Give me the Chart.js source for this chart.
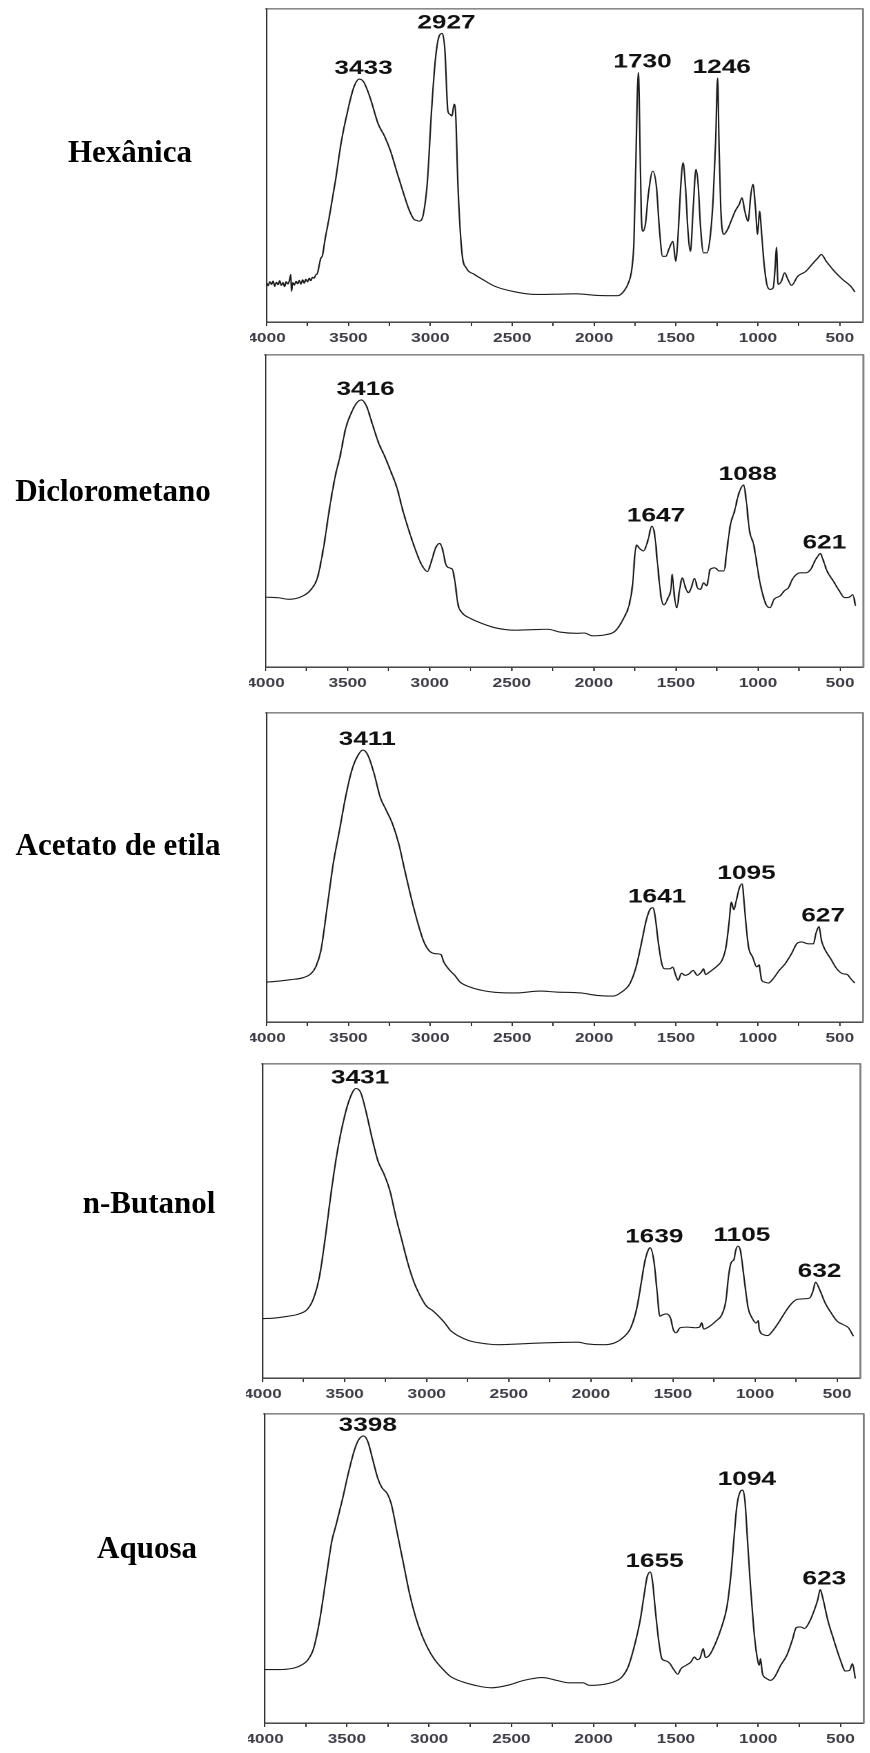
<!DOCTYPE html>
<html lang="pt">
<head>
<meta charset="utf-8">
<title>Espectros de infravermelho das frações</title>
<script src="https://cdn.jsdelivr.net/npm/chart.js@4.4.1/dist/chart.umd.min.js"></script>
<style>
  html, body { margin: 0; padding: 0; background: #fff; }
  body { width: 870px; height: 1753px; position: relative; overflow: hidden; }
  .label {
    position: absolute; width: 300px; text-align: center; white-space: nowrap;
    font: bold 31px "Liberation Serif", "Times New Roman", serif; line-height: 31px; color: #000;
  }
  .panel { position: absolute; transform-origin: 0 0; }
  .panel canvas { display: block; }
</style>
</head>
<body>
<script>
// Wavenumber axis (cm-1), drawn from high to low
const axisMax = 4000;
const axisMin = 360;
const majorStep = 500;
const minorStep = 250;

const panelNames = ['Hexânica', 'Diclorometano', 'Acetato de etila', 'n-Butanol', 'Aquosa'];

// Fração hexânica
const hexWavenumber = [4000, 3990, 3980, 3970, 3960, 3950, 3940, 3930, 3920, 3910, 3900, 3890, 3880, 3870, 3860, 3852, 3848, 3840, 3830, 3820, 3810, 3800, 3790, 3780, 3770, 3760, 3750, 3740, 3730, 3720, 3710, 3700, 3690, 3668, 3660, 3643, 3618, 3580, 3543, 3505, 3468, 3433, 3405, 3368, 3318, 3280, 3243, 3206, 3168, 3131, 3100, 3080, 3068, 3043, 3018, 2993, 2968, 2945, 2927, 2911, 2893, 2881, 2868, 2855, 2846, 2831, 2806, 2781, 2731, 2681, 2606, 2481, 2356, 2231, 2107, 1981, 1857, 1819, 1787, 1769, 1757, 1747, 1730, 1725, 1720, 1712, 1702, 1687, 1669, 1642, 1619, 1602, 1582, 1562, 1544, 1519, 1502, 1487, 1472, 1457, 1442, 1427, 1412, 1395, 1378, 1365, 1350, 1332, 1312, 1292, 1273, 1258, 1246, 1238, 1227, 1209, 1189, 1164, 1139, 1114, 1097, 1080, 1060, 1043, 1030, 1015, 1002, 990, 977, 962, 945, 927, 907, 895, 887, 877, 857, 837, 817, 795, 757, 707, 670, 633, 613, 583, 533, 483, 433, 408];
const hexSignal = [12.5, 11.6, 12.9, 12.0, 13.1, 11.4, 12.7, 11.9, 13.2, 11.7, 12.6, 11.3, 12.9, 12.1, 13.4, 15.2, 9.8, 12.6, 11.8, 13.0, 12.2, 13.3, 12.1, 13.5, 12.4, 13.7, 12.8, 14.0, 13.2, 14.3, 14.0, 15.0, 15.5, 20.5, 21.0, 26.4, 33.3, 45.0, 57.8, 67.4, 74.9, 77.6, 76.5, 71.7, 63.2, 59.4, 54.6, 48.2, 41.8, 36.0, 32.8, 32.4, 32.2, 34.4, 45.0, 67.4, 84.5, 91.5, 92.2, 86.7, 67.4, 66.4, 65.8, 69.6, 67.0, 42.9, 21.6, 17.3, 15.2, 13.6, 11.4, 9.6, 8.8, 8.9, 9.0, 8.5, 8.4, 9.8, 13.0, 17.3, 25.8, 47.2, 79.7, 72.0, 56.8, 34.4, 29.0, 31.2, 40.8, 48.2, 42.9, 30.1, 21.0, 21.0, 23.2, 25.8, 19.4, 28.0, 42.9, 50.9, 42.9, 29.0, 22.6, 36.5, 48.8, 44.0, 30.1, 22.1, 22.1, 26.9, 39.7, 57.8, 77.9, 57.8, 36.5, 28.0, 29.2, 32.2, 35.4, 37.6, 39.7, 35.4, 32.2, 40.8, 44.0, 36.5, 28.0, 35.4, 28.0, 18.4, 12.0, 10.4, 10.9, 17.3, 23.9, 12.0, 13.0, 15.7, 13.6, 11.7, 14.6, 16.2, 18.4, 20.5, 21.6, 19.4, 16.2, 13.6, 11.4, 9.6];
const hexPeaks = [3433, 2927, 1730, 1246];

// Fração diclorometano
const dicWavenumber = [4000, 3920, 3858, 3771, 3722, 3684, 3647, 3610, 3573, 3548, 3511, 3473, 3444, 3416, 3386, 3349, 3312, 3275, 3238, 3200, 3163, 3126, 3088, 3051, 3014, 2989, 2964, 2939, 2922, 2902, 2882, 2862, 2847, 2828, 2803, 2753, 2679, 2604, 2480, 2356, 2281, 2207, 2107, 2058, 2008, 1933, 1871, 1822, 1784, 1764, 1752, 1740, 1722, 1697, 1672, 1647, 1630, 1610, 1590, 1573, 1548, 1531, 1523, 1511, 1494, 1479, 1461, 1442, 1424, 1407, 1387, 1369, 1350, 1332, 1312, 1292, 1263, 1238, 1208, 1188, 1168, 1143, 1119, 1088, 1074, 1052, 1027, 1010, 994, 977, 952, 927, 902, 865, 840, 815, 791, 766, 741, 711, 679, 654, 640, 621, 605, 580, 542, 505, 473, 443, 423, 406];
const dicSignal = [22.4, 22.2, 21.7, 22.8, 24.9, 28.6, 38.2, 51.0, 61.8, 67.1, 76.7, 82.0, 84.7, 85.6, 83.7, 77.8, 71.9, 67.6, 62.8, 57.5, 50.0, 43.6, 37.7, 32.9, 30.6, 34.0, 38.2, 39.6, 37.7, 32.9, 31.8, 31.3, 27.6, 20.1, 17.4, 15.6, 13.9, 12.6, 11.8, 12.0, 12.1, 11.2, 10.8, 10.9, 10.0, 10.3, 11.5, 15.3, 20.1, 26.5, 35.0, 39.1, 38.0, 37.2, 40.4, 45.1, 42.5, 31.8, 22.2, 19.9, 22.2, 24.9, 29.7, 23.3, 19.0, 24.4, 28.6, 25.4, 23.8, 25.4, 28.4, 25.4, 24.9, 27.0, 26.0, 31.3, 31.8, 30.8, 30.8, 38.2, 45.7, 50.0, 55.3, 58.3, 54.3, 43.6, 39.3, 34.0, 28.6, 24.4, 20.1, 19.0, 21.7, 22.8, 24.4, 25.4, 28.1, 29.7, 30.2, 30.2, 31.3, 34.0, 35.2, 36.4, 34.5, 30.8, 27.6, 24.4, 22.2, 22.4, 23.2, 19.6];
const dicPeaks = [3416, 1647, 1088, 621];

// Fração acetato de etila
const aceWavenumber = [4000, 3930, 3855, 3780, 3730, 3700, 3668, 3630, 3593, 3555, 3518, 3480, 3443, 3411, 3380, 3343, 3306, 3268, 3231, 3193, 3156, 3118, 3081, 3043, 3006, 2968, 2936, 2918, 2881, 2851, 2818, 2756, 2681, 2606, 2481, 2331, 2231, 2082, 1982, 1882, 1832, 1782, 1744, 1712, 1682, 1657, 1641, 1627, 1607, 1587, 1570, 1537, 1520, 1502, 1487, 1467, 1445, 1420, 1395, 1370, 1345, 1332, 1320, 1295, 1270, 1245, 1220, 1195, 1177, 1162, 1147, 1132, 1112, 1095, 1087, 1075, 1057, 1032, 1007, 992, 989, 977, 957, 937, 907, 870, 833, 795, 763, 733, 693, 661, 646, 627, 612, 593, 556, 518, 481, 456, 433, 408];
const aceSignal = [12.9, 13.2, 13.7, 14.3, 15.6, 17.8, 23.2, 37.2, 51.2, 62.0, 72.7, 81.4, 86.2, 88.0, 86.2, 80.3, 72.7, 68.4, 64.1, 57.7, 49.0, 40.4, 32.9, 26.4, 23.0, 22.1, 21.9, 19.4, 16.7, 15.1, 12.9, 11.3, 10.2, 9.6, 9.4, 10.0, 9.7, 9.4, 8.6, 8.4, 9.7, 12.4, 17.8, 25.3, 32.9, 36.6, 37.0, 33.9, 25.3, 18.9, 17.2, 17.2, 17.8, 15.1, 13.5, 15.8, 15.1, 15.6, 16.7, 15.1, 16.2, 17.2, 15.4, 16.2, 17.2, 18.3, 19.9, 24.2, 31.8, 38.8, 36.3, 39.3, 43.6, 44.7, 40.4, 32.9, 24.2, 21.0, 17.8, 18.5, 17.5, 13.5, 12.9, 12.6, 14.0, 16.7, 18.9, 22.1, 25.3, 25.9, 25.3, 25.3, 28.6, 30.9, 26.4, 23.7, 20.5, 17.2, 15.6, 15.4, 14.0, 12.6];
const acePeaks = [3411, 1641, 1095, 627];

// Fração n-butanol
const butWavenumber = [4000, 3926, 3852, 3778, 3729, 3692, 3655, 3618, 3581, 3544, 3507, 3470, 3431, 3403, 3371, 3334, 3297, 3260, 3224, 3187, 3150, 3113, 3076, 3039, 3002, 2965, 2928, 2891, 2854, 2804, 2743, 2669, 2570, 2422, 2274, 2077, 2028, 1929, 1855, 1806, 1757, 1720, 1695, 1671, 1651, 1639, 1616, 1597, 1580, 1560, 1540, 1515, 1498, 1481, 1456, 1412, 1362, 1338, 1325, 1313, 1276, 1239, 1202, 1178, 1160, 1146, 1128, 1118, 1105, 1090, 1079, 1062, 1042, 1018, 993, 980, 974, 949, 924, 894, 857, 820, 783, 746, 709, 667, 647, 632, 603, 573, 536, 500, 463, 431, 401];
const butSignal = [18.9, 19.1, 19.6, 20.4, 21.8, 25.0, 31.9, 44.7, 59.6, 72.3, 81.9, 88.8, 92.2, 91.0, 85.1, 76.6, 69.1, 64.9, 59.6, 51.1, 43.6, 36.2, 30.3, 26.1, 22.9, 21.5, 19.7, 17.6, 15.1, 13.3, 11.9, 11.1, 10.6, 10.9, 11.2, 11.4, 10.9, 10.6, 11.2, 12.8, 16.0, 22.3, 29.8, 37.2, 40.7, 41.5, 37.2, 27.7, 19.7, 20.2, 20.4, 19.1, 15.4, 14.4, 16.0, 16.2, 16.0, 16.2, 17.6, 15.6, 16.5, 18.1, 20.2, 24.5, 33.0, 36.7, 37.8, 40.6, 42.0, 40.8, 37.0, 29.8, 22.3, 19.1, 17.5, 18.3, 15.4, 13.8, 13.5, 14.9, 17.6, 20.7, 23.4, 25.0, 25.2, 25.5, 27.7, 30.5, 27.7, 23.9, 20.7, 18.1, 17.0, 16.0, 13.3];
const butPeaks = [3431, 1639, 1105, 632];

// Fração aquosa
const aqWavenumber = [4000, 3913, 3839, 3789, 3739, 3702, 3665, 3628, 3590, 3566, 3528, 3491, 3454, 3429, 3398, 3372, 3342, 3312, 3287, 3255, 3231, 3193, 3156, 3119, 3082, 3044, 3007, 2970, 2920, 2871, 2796, 2722, 2622, 2523, 2424, 2312, 2225, 2151, 2064, 2027, 1952, 1878, 1828, 1791, 1754, 1717, 1692, 1675, 1655, 1642, 1625, 1605, 1585, 1560, 1536, 1511, 1489, 1469, 1437, 1408, 1388, 1371, 1354, 1334, 1321, 1297, 1260, 1222, 1190, 1165, 1148, 1130, 1110, 1094, 1080, 1065, 1048, 1028, 1010, 993, 986, 974, 949, 925, 900, 863, 826, 793, 768, 743, 718, 689, 659, 639, 623, 609, 577, 540, 500, 470, 445, 427, 410];
const aqSignal = [17.3, 17.3, 17.6, 18.4, 20.3, 24.1, 33.3, 46.2, 59.2, 64.0, 72.1, 80.8, 88.3, 91.6, 92.9, 91.0, 85.1, 79.2, 76.2, 74.3, 71.1, 61.3, 51.6, 41.9, 34.3, 28.4, 24.1, 20.8, 17.6, 15.1, 13.3, 12.2, 11.4, 12.2, 13.8, 14.7, 13.8, 13.0, 13.0, 12.2, 12.4, 13.3, 14.9, 18.1, 24.6, 33.3, 41.9, 47.3, 48.9, 45.7, 36.5, 26.8, 20.8, 20.1, 19.2, 17.1, 15.8, 17.6, 18.7, 19.8, 21.4, 20.5, 20.9, 24.1, 21.2, 21.9, 25.7, 31.1, 37.6, 48.4, 59.2, 70.0, 74.8, 75.4, 71.6, 59.2, 45.1, 31.1, 22.5, 18.7, 20.8, 16.0, 14.4, 13.8, 14.9, 18.7, 21.9, 26.8, 30.9, 31.1, 30.6, 32.7, 36.5, 39.7, 43.2, 40.8, 33.3, 26.8, 20.3, 16.8, 17.0, 19.2, 14.4];
const aqPeaks = [3398, 1655, 1094, 623];

const wavenumbers = [hexWavenumber, dicWavenumber, aceWavenumber, butWavenumber, aqWavenumber];
const signals = [hexSignal, dicSignal, aceSignal, butSignal, aqSignal];
const peakSets = [hexPeaks, dicPeaks, acePeaks, butPeaks, aqPeaks];

// Page layout: plot frames and row captions (page pixels)
const frames = [
  {left: 266.5, right: 862,   top: 8.5,    bottom: 321},
  {left: 266,   right: 864,   top: 354.5,  bottom: 666},
  {left: 267,   right: 863.5, top: 712.5,  bottom: 1021.5},
  {left: 262.5, right: 860.5, top: 1063.5, bottom: 1377},
  {left: 265,   right: 864,   top: 1414,   bottom: 1722.5}
];
const captionSpots = [
  {cx: 130, baseline: 161.7},
  {cx: 113, baseline: 500.5},
  {cx: 118, baseline: 855},
  {cx: 149, baseline: 1213.3},
  {cx: 147, baseline: 1558}
];

const STRETCH = 1.38;   // the spectra figures are widened horizontally
const PAD = 12;
const AXIS_H = 30;
const SANS = '"Liberation Sans", Arial, Helvetica, sans-serif';

function peakLabelPlugin(peaks) {
  return {
    id: 'peakLabels',
    afterDatasetsDraw(chart) {
      const {ctx, scales} = chart;
      const pts = chart.data.datasets[0].data;
      ctx.save();
      ctx.font = 'bold 19px ' + SANS;
      ctx.fillStyle = '#111';
      ctx.textAlign = 'center';
      ctx.textBaseline = 'alphabetic';
      peaks.forEach(p => {
        const pt = pts.find(d => d.x === p);
        if (!pt) return;
        const px = scales.x.getPixelForValue(p) + 3;
        const py = scales.y.getPixelForValue(pt.y) - 5;
        ctx.fillText(String(p), px, py);
      });
      ctx.restore();
    }
  };
}

// keep the frame exactly where the layout asks, regardless of label overhang
function fixHorizontal(h) {
  return s => { s.height = h; s.paddingLeft = 0; s.paddingRight = 0; };
}
function fixVertical(s) { s.width = 0; s.paddingTop = 0; s.paddingBottom = 0; }

function buildPanel(i) {
  const f = frames[i];
  const w = Math.round((f.right - f.left) / STRETCH + 2 * PAD);
  const h = Math.round((f.bottom - f.top) + PAD + AXIS_H);

  const wrap = document.createElement('div');
  wrap.className = 'panel';
  wrap.style.left = (f.left - PAD * STRETCH) + 'px';
  wrap.style.top = (f.top - PAD) + 'px';
  wrap.style.width = w + 'px';
  wrap.style.height = h + 'px';
  wrap.style.transform = 'scaleX(' + STRETCH + ')';
  const canvas = document.createElement('canvas');
  canvas.width = w;
  canvas.height = h;
  wrap.appendChild(canvas);
  document.body.appendChild(wrap);

  const wn = wavenumbers[i];
  const sig = signals[i];
  const data = wn.map((x, k) => ({x: x, y: sig[k]}));

  new Chart(canvas, {
    type: 'line',
    data: {
      datasets: [{
        data: data,
        borderColor: '#1c1c1c',
        borderWidth: 1.1,
        pointRadius: 0,
        fill: false,
        cubicInterpolationMode: 'monotone'
      }]
    },
    options: {
      responsive: false,
      animation: false,
      devicePixelRatio: 2,
      events: [],
      layout: {padding: {left: PAD, right: PAD, top: PAD, bottom: 0}},
      plugins: {legend: {display: false}, tooltip: {enabled: false}, title: {display: false}},
      scales: {
        x: {
          type: 'linear',
          position: 'bottom',
          reverse: true,
          min: axisMin,
          max: axisMax,
          afterFit: fixHorizontal(AXIS_H),
          border: {display: true, color: '#333', width: 1.4},
          grid: {display: true, drawOnChartArea: false, drawTicks: true, tickLength: 4, color: '#333', lineWidth: 1},
          ticks: {
            stepSize: minorStep,
            maxTicksLimit: 40,
            includeBounds: false,
            autoSkip: false,
            maxRotation: 0,
            padding: 5,
            color: '#3d3d47',
            font: {family: SANS, size: 12.5, weight: 'bold'},
            callback: v => (v % majorStep === 0 ? String(v) : '')
          }
        },
        xTop: {
          type: 'linear',
          position: 'top',
          afterFit: fixHorizontal(0),
          border: {display: true, color: '#8a8a8a', width: 1.6},
          grid: {display: false},
          ticks: {display: false}
        },
        y: {
          type: 'linear',
          position: 'left',
          min: 0,
          max: 100,
          afterFit: fixVertical,
          border: {display: true, color: '#333', width: 1.1},
          grid: {display: false},
          ticks: {display: false}
        },
        yRight: {
          type: 'linear',
          position: 'right',
          afterFit: fixVertical,
          border: {display: true, color: '#808080', width: 1.4},
          grid: {display: false},
          ticks: {display: false}
        }
      }
    },
    plugins: [peakLabelPlugin(peakSets[i])]
  });

  const cap = document.createElement('div');
  cap.className = 'label';
  cap.textContent = panelNames[i];
  cap.style.left = (captionSpots[i].cx - 150) + 'px';
  cap.style.top = (captionSpots[i].baseline - 26) + 'px';
  document.body.appendChild(cap);
}

for (let i = 0; i < panelNames.length; i++) buildPanel(i);
</script>
</body>
</html>
